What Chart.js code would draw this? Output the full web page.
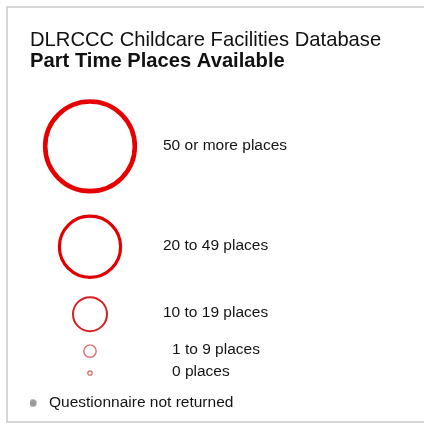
<!DOCTYPE html>
<html>
<head>
<meta charset="utf-8">
<script src="https://cdn.jsdelivr.net/npm/chart.js@4.4.1/dist/chart.umd.min.js"></script>
<style>
html, body { margin: 0; padding: 0; background: #fff; }
</style>
</head>
<body>
<canvas id="chart" width="424" height="425"></canvas>
<script>
// legend classes (part time places)
let categories = ['50 or more places', '20 to 49 places', '10 to 19 places', '1 to 9 places', '0 places'];
let placesFrom = [50, 20, 10, 1, 0];
let notReturned = 'Questionnaire not returned';
let titleText = 'DLRCCC Childcare Facilities Database';
let subtitleText = 'Part Time Places Available';

// layout + look of the legend rows (not data)
let rowPos = [66, 166.5, 234, 271, 293];
let dotRow = 323;
let ringRadius = [44.8, 30.6, 17, 6.2, 2.2];
let ringWidth = [4.6, 3.2, 2, 1.4, 1.2];
let ringColor = ['#e60000', '#e00000', '#d42222', '#d87070', '#d86060'];
let labelShift = [73, 73, 73, 82, 82];

let font = "'Liberation Sans', Arial, sans-serif";

let rings = categories.map(function (c, i) {
	return {x: 0, y: rowPos[i], label: c, places: placesFrom[i]};
});

let framePlugin = {
	id: 'frame',
	beforeDraw: function (chart) {
		let ctx = chart.ctx;
		ctx.save();
		ctx.fillStyle = '#fff';
		ctx.fillRect(0, 0, chart.width, chart.height);
		ctx.strokeStyle = '#c9c9c9';
		ctx.lineWidth = 1.5;
		ctx.beginPath();
		ctx.moveTo(424, 7);
		ctx.lineTo(7, 7);
		ctx.lineTo(7, 422);
		ctx.lineTo(424, 422);
		ctx.stroke();
		ctx.restore();
	}
};

let labelPlugin = {
	id: 'rowLabels',
	afterDatasetsDraw: function (chart) {
		let ctx = chart.ctx;
		ctx.save();
		ctx.font = '15.5px ' + font;
		ctx.fillStyle = '#141414';
		ctx.textBaseline = 'middle';
		ctx.textAlign = 'left';
		chart.getDatasetMeta(0).data.forEach(function (pt, i) {
			ctx.fillText(categories[i], pt.x + labelShift[i], pt.y - 1);
		});
		let dot = chart.getDatasetMeta(1).data[0];
		ctx.fillText(notReturned, dot.x + 16, dot.y);
		ctx.restore();
	}
};

new Chart(document.getElementById('chart'), {
	type: 'scatter',
	data: {
		datasets: [
			{
				data: rings,
				pointRadius: ringRadius,
				pointBorderWidth: ringWidth,
				pointBorderColor: ringColor,
				pointBackgroundColor: 'rgba(0,0,0,0)'
			},
			{
				data: [{x: -57, y: dotRow}],
				pointRadius: 3.6,
				pointBorderWidth: 1,
				pointBorderColor: '#bdbdbd',
				pointBackgroundColor: '#999999'
			}
		]
	},
	options: {
		responsive: false,
		animation: false,
		events: [],
		layout: {autoPadding: false, padding: {left: 30, top: 30, right: 0, bottom: 0}},
		scales: {
			x: {type: 'linear', min: -60, max: 334, display: false},
			y: {type: 'linear', min: 0, max: 345, reverse: true, display: false}
		},
		plugins: {
			legend: {display: false},
			tooltip: {enabled: false},
			title: {
				display: true,
				text: titleText,
				align: 'start',
				color: '#111',
				font: {family: font, size: 20.2, weight: 'normal', lineHeight: 1},
				padding: {top: 0, bottom: 1}
			},
			subtitle: {
				display: true,
				text: subtitleText,
				align: 'start',
				color: '#111',
				font: {family: font, size: 20.2, weight: 'bold', lineHeight: 1},
				padding: {top: 0, bottom: 9}
			}
		}
	},
	plugins: [framePlugin, labelPlugin]
});
</script>
</body>
</html>
